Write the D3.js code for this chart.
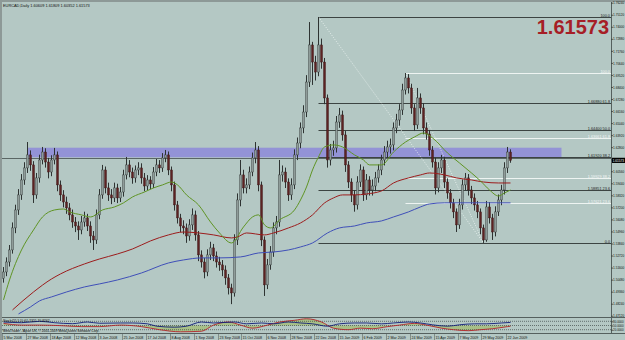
<!DOCTYPE html>
<html><head><meta charset="utf-8">
<script src="https://cdn.jsdelivr.net/npm/d3@7"></script>
<style>
html,body{margin:0;padding:0;background:#b4c8c4;overflow:hidden;}
svg{display:block;font-family:'Liberation Sans',Arial,sans-serif;}
</style>
</head><body>
<svg id="c" width="625" height="340"></svg>
<script>
// ---------------- DATA (EURCAD, Daily, 2-day bars) ----------------
const firstOpen = 1.5060;
const closes = [1.5119,1.5212,1.5324,1.5529,1.5696,1.5836,1.5975,1.6087,1.6208,1.6115,
1.5836,1.5994,1.6161,1.6235,1.6142,1.6049,1.6161,1.6208,1.5929,1.5836,
1.5770,1.5715,1.5650,1.5584,1.5547,1.5510,1.5584,1.5622,1.5547,1.5454,
1.5417,1.5650,1.5836,1.6068,1.5901,1.5836,1.5808,1.5901,1.5808,1.5863,
1.6022,1.6115,1.6049,1.5994,1.6068,1.6087,1.5994,1.5919,1.5975,1.5938,
1.6049,1.6115,1.6087,1.6180,1.6208,1.6068,1.5929,1.5743,1.5622,1.5547,
1.5529,1.5454,1.5557,1.5650,1.5464,1.5278,1.5212,1.5119,1.5278,1.5343,
1.5268,1.5212,1.5185,1.5138,1.5064,1.4971,1.4924,1.5417,1.5789,1.6022,
1.5901,1.5929,1.6049,1.6180,1.6254,1.5929,1.5417,1.4999,1.5185,1.5305,
1.5529,1.5584,1.6022,1.6049,1.5956,1.5836,1.5929,1.6208,1.6319,1.6459,
1.6607,1.6886,1.7231,1.7072,1.6979,1.7231,1.7072,1.6738,1.6161,1.6254,
1.6273,1.6514,1.6580,1.6394,1.6115,1.5956,1.5836,1.5743,1.5956,1.6068,
1.5836,1.5975,1.5882,1.5919,1.5994,1.6068,1.6161,1.6235,1.6282,1.6301,
1.6459,1.6533,1.6626,1.6812,1.6924,1.6831,1.6645,1.6487,1.6738,1.6645,
1.6459,1.6403,1.6254,1.6142,1.5901,1.6087,1.6161,1.5956,1.5854,1.5762,
1.5678,1.5557,1.5743,1.5929,1.5994,1.5882,1.5808,1.5743,1.5678,1.5529,
1.5417,1.5724,1.5622,1.5491,1.5678,1.5789,1.5882,1.6087,1.6235,1.6157];
const highs = [1.5165,1.5255,1.5370,1.5580,1.5745,1.5890,1.6030,1.6140,1.6328,1.6250,
1.6150,1.6040,1.6210,1.6282,1.6270,1.6180,1.6205,1.6273,1.6240,1.5970,
1.5880,1.5820,1.5760,1.5700,1.5630,1.5590,1.5640,1.5680,1.5660,1.5590,
1.5500,1.5700,1.5890,1.6115,1.6100,1.5950,1.5890,1.5950,1.5940,1.5910,
1.6070,1.6189,1.6160,1.6090,1.6110,1.6140,1.6130,1.6040,1.6020,1.6010,
1.6095,1.6170,1.6160,1.6225,1.6254,1.6240,1.6100,1.5960,1.5780,1.5660,
1.5600,1.5570,1.5610,1.5710,1.5690,1.5500,1.5320,1.5250,1.5330,1.5400,
1.5380,1.5310,1.5260,1.5230,1.5180,1.5100,1.5010,1.5470,1.5850,1.6161,
1.6070,1.5990,1.6100,1.6230,1.6328,1.6290,1.5960,1.5450,1.5240,1.5360,
1.5580,1.5640,1.6161,1.6110,1.6090,1.5990,1.5990,1.6260,1.6370,1.6510,
1.6670,1.6950,1.7444,1.7260,1.7130,1.7491,1.7290,1.7110,1.6770,1.6310,
1.6340,1.6570,1.6645,1.6620,1.6430,1.6150,1.5990,1.5880,1.6010,1.6120,
1.6100,1.6030,1.6010,1.5980,1.6050,1.6120,1.6210,1.6290,1.6340,1.6360,
1.6510,1.6590,1.6680,1.6870,1.6970,1.6960,1.6870,1.6680,1.6831,1.6780,
1.6690,1.6510,1.6440,1.6290,1.6180,1.6140,1.6208,1.6190,1.5990,1.5890,
1.5800,1.5710,1.5800,1.5980,1.6040,1.6030,1.5920,1.5850,1.5780,1.5710,
1.5560,1.5780,1.5770,1.5660,1.5730,1.5840,1.5930,1.6140,1.6282,1.6260];
const lows = [1.5020,1.5080,1.5170,1.5290,1.5480,1.5650,1.5790,1.5930,1.6040,1.6060,
1.5761,1.5800,1.5950,1.6120,1.6090,1.5990,1.6010,1.6120,1.5870,1.5780,
1.5720,1.5660,1.5600,1.5530,1.5490,1.5417,1.5470,1.5540,1.5500,1.5390,
1.5324,1.5380,1.5610,1.5800,1.5850,1.5780,1.5750,1.5770,1.5760,1.5770,
1.5820,1.5980,1.6000,1.5940,1.5950,1.6020,1.5940,1.5870,1.5880,1.5890,
1.5900,1.6010,1.6040,1.6050,1.6140,1.6020,1.5870,1.5690,1.5570,1.5490,
1.5470,1.5390,1.5410,1.5510,1.5410,1.5220,1.5160,1.5060,1.5080,1.5230,
1.5220,1.5160,1.5130,1.5080,1.5000,1.4910,1.4820,1.4890,1.5370,1.5730,
1.5850,1.5850,1.5890,1.6010,1.6130,1.5870,1.5360,1.4896,1.4960,1.5140,
1.5260,1.5470,1.5540,1.5960,1.5900,1.5780,1.5790,1.5890,1.6160,1.6270,
1.6410,1.6560,1.6840,1.6859,1.6900,1.6940,1.7010,1.6680,1.6090,1.6110,
1.6200,1.6230,1.6460,1.6340,1.6050,1.5900,1.5770,1.5680,1.5700,1.5910,
1.5780,1.5790,1.5830,1.5830,1.5870,1.5950,1.6020,1.6110,1.6180,1.6220,
1.6250,1.6410,1.6480,1.6580,1.6770,1.6780,1.6590,1.6430,1.6450,1.6590,
1.6400,1.6350,1.6200,1.6090,1.5840,1.5860,1.6040,1.5900,1.5800,1.5710,
1.5620,1.5491,1.5520,1.5700,1.5880,1.5830,1.5750,1.5690,1.5620,1.5470,
1.5389,1.5400,1.5570,1.5417,1.5450,1.5640,1.5740,1.5840,1.6040,1.6135];

// moving averages read at sample bars: [bar index, price]
const maGreen = [[0,1.4859],[2,1.5045],[6,1.5324],[10,1.5510],[13,1.5631],[17,1.5696],[20,1.5705],[22,1.5678],[26,1.5650],[29,1.5631],[33,1.5696],[37,1.5724],[40,1.5762],[43,1.5817],[47,1.5863],[50,1.5901],[53,1.5929],[56,1.5956],[58,1.5929],[61,1.5836],[65,1.5743],[69,1.5584],[72,1.5482],[76,1.5389],[80,1.5538],[83,1.5631],[85,1.5650],[87,1.5557],[89,1.5529],[92,1.5603],[97,1.5696],[99,1.5789],[101,1.5910],[103,1.6068],[105,1.6189],[107,1.6282],[110,1.6301],[113,1.6282],[117,1.6208],[120,1.6161],[122,1.6115],[126,1.6115],[130,1.6235],[134,1.6328],[137,1.6375],[140,1.6412],[143,1.6366],[148,1.6226],[152,1.6133],[156,1.6040],[159,1.5966],[162,1.5882],[165,1.5826],[167,1.5854],[169,1.5882]];
const maRed = [[3,1.4766],[10,1.4933],[16,1.5054],[19,1.5101],[27,1.5194],[32,1.5240],[38,1.5287],[43,1.5333],[49,1.5408],[55,1.5464],[60,1.5491],[65,1.5482],[70,1.5464],[76,1.5436],[78,1.5445],[81,1.5482],[87,1.5464],[90,1.5482],[95,1.5529],[99,1.5575],[103,1.5650],[107,1.5761],[110,1.5808],[113,1.5836],[117,1.5836],[121,1.5845],[126,1.5873],[130,1.5947],[135,1.5994],[139,1.6022],[142,1.6040],[147,1.6022],[151,1.5994],[156,1.5975],[160,1.5956],[165,1.5947],[169,1.5947]];
const maBlue = [[5,1.4729],[9,1.4794],[12,1.4850],[16,1.4887],[21,1.4933],[27,1.4980],[32,1.5008],[38,1.5045],[46,1.5110],[55,1.5203],[60,1.5231],[66,1.5250],[72,1.5250],[79,1.5259],[85,1.5296],[90,1.5305],[95,1.5324],[99,1.5352],[103,1.5389],[108,1.5482],[112,1.5529],[117,1.5547],[121,1.5575],[126,1.5594],[130,1.5631],[135,1.5678],[139,1.5724],[142,1.5752],[147,1.5762],[157,1.5762],[169,1.5762]];

// oscillator (lower window), values 0..100
const oscMain = [[0,75],[6,70],[12,80],[17,70],[23,63],[28,75],[32,66],[39,68],[43,68],[48,62],[51,45],[57,38],[61,45],[66,75],[70,68],[77,75],[81,62],[86,68],[90,62],[95,75],[99,68],[103,62],[108,45],[112,62],[117,68],[121,68],[126,62],[130,68],[135,75],[139,68],[143,55],[148,45],[152,55],[157,62],[161,62],[166,68],[169,72]];
const oscSignal = [[0,65],[6,53],[12,53],[19,49],[26,42],[32,42],[39,53],[46,42],[52,20],[59,5],[66,9],[70,53],[75,75],[79,53],[83,31],[88,53],[92,75],[97,87],[101,98],[106,75],[110,31],[115,20],[119,31],[123,27],[128,42],[132,53],[137,65],[141,53],[146,31],[150,20],[155,13],[159,20],[163,27],[168,42],[169,45]];
const oscLevels = [80, 50, 20];

// drawn objects
const bandPrices = [1.6186, 1.6275];     // resistance zone
const bandBars = [8, 186];
const hLinePrice = 1.6180;
const fibLevels = [0, 23.6, 38.2, 50, 61.8, 100];
const fibLevelsB = [23.6, 38.2, 61.8, 100];
const fibA = {hiBar:105, loBar:160};
const fibB = {hiBar:134, loBar:160};

// axes labels
const priceTicks = [1.7624,1.7512,1.7400,1.7288,1.7176,1.7064,1.6952,1.6840,1.6728,1.6616,1.6504,1.6392,1.6280,1.6168,1.6056,1.5944,1.5832,1.5720,1.5608,1.5496,1.5384,1.5272,1.5160,1.5048,1.4936,1.4824,1.4712];
const dateLabels = ["5 Mar 2008","27 Mar 2008","18 Apr 2008","12 May 2008","3 Jun 2008","25 Jun 2008","17 Jul 2008","8 Aug 2008","1 Sep 2008","23 Sep 2008","15 Oct 2008","6 Nov 2008","28 Nov 2008","22 Dec 2008","15 Jan 2009","6 Feb 2009","2 Mar 2009","24 Mar 2009","15 Apr 2009","7 May 2009","29 May 2009","22 Jun 2009"];
const dateBars = [0,8,16,24,32,40,48,56,64,72,80,88,96,104,112,120,128,136,144,152,160,168];
const lastPrice = 1.61573;
const titleText = "EURCAD,Daily  1.60609 1.61809 1.60352 1.61573";
const oscText = "Stoch(21,5,5) 61.7321 70.8262";
const copyText = "MetaTrader - Alpari UK, \u00A9 2001-2009 MetaQuotes Software Corp.";

// ---------------- DRAWING ----------------
const svg = d3.select('#c');
const R = 611.5;          // price axis line
const mainTop = 2, mainBot = 317.5, oscTop = 318, oscBot = 333;
const FONT = "'Liberation Sans',Arial,sans-serif";

const x = d3.scaleLinear().domain([0, 169]).range([3.5, 510.5]);
const y = d3.scaleLinear().domain([1.4824, 1.7624]).range([303.7, 2.7]);
const yo = d3.scaleLinear().domain([0, 100]).range([332.5, 318.5]);

svg.append('rect').attr('width', 625).attr('height', 340).attr('fill', '#b4c8c4');

const defs = svg.append('defs');
defs.append('clipPath').attr('id', 'cpMain').append('rect')
  .attr('x', 2).attr('y', mainTop).attr('width', R - 2).attr('height', mainBot - mainTop);
defs.append('clipPath').attr('id', 'cpOsc').append('rect')
  .attr('x', 2).attr('y', oscTop).attr('width', R - 2).attr('height', oscBot - oscTop);

const g = svg.append('g').attr('clip-path', 'url(#cpMain)');

// resistance band
g.append('rect')
  .attr('x', x(bandBars[0])).attr('width', x(bandBars[1]) - x(bandBars[0]))
  .attr('y', y(bandPrices[1])).attr('height', y(bandPrices[0]) - y(bandPrices[1]))
  .attr('fill', '#9393d6');

// full-width horizontal line
g.append('line').attr('x1', 2).attr('x2', R).attr('y1', Math.round(y(hLinePrice)) + 0.5).attr('y2', Math.round(y(hLinePrice)) + 0.5)
  .attr('stroke', '#5a6664').attr('stroke-width', 1);

// fibonacci grids
function drawFib(f, levels, color, labelColor) {
  const hi = highs[f.hiBar], lo = lows[f.loBar];
  const x0 = x(Math.min(f.hiBar, f.loBar));
  levels.forEach(l => {
    const p = lo + (hi - lo) * l / 100;
    const yy = Math.round(y(p)) + 0.5;
    g.append('line').attr('x1', x0).attr('x2', R).attr('y1', yy).attr('y2', yy)
      .attr('stroke', color).attr('stroke-width', 1);
    const txt = (l === 0 || l === 100) ? l.toFixed(1) : p.toFixed(5) + ' ' + l.toFixed(1);
    svg.append('text').attr('x', 610).attr('y', yy - 1).attr('text-anchor', 'end')
      .attr('font-size', 3.8).attr('fill', labelColor).text(txt);
  });
  g.append('line').attr('x1', x(f.hiBar)).attr('y1', y(hi)).attr('x2', x(f.loBar)).attr('y2', y(lo))
    .attr('stroke', '#eef4f2').attr('stroke-width', 0.8).attr('stroke-dasharray', '1,1.5');
}
drawFib(fibB, fibLevelsB, '#eef4f2', '#f4f8f8');
drawFib(fibA, fibLevels, '#3c4442', '#1c2422');

// candles
const bars = closes.map((c, i) => ({i, o: i ? closes[i - 1] : firstOpen, c, h: highs[i], l: lows[i]}));
const cg = g.append('g');
cg.selectAll('line.wick').data(bars).join('line').attr('class', 'wick')
  .attr('x1', d => x(d.i)).attr('x2', d => x(d.i))
  .attr('y1', d => y(d.h)).attr('y2', d => y(d.l))
  .attr('stroke', '#2e3332').attr('stroke-width', 1);
cg.selectAll('rect.body').data(bars).join('rect').attr('class', 'body')
  .attr('x', d => x(d.i) - 1).attr('width', 2)
  .attr('y', d => y(Math.max(d.o, d.c)))
  .attr('height', d => Math.max(1, Math.abs(y(d.o) - y(d.c))))
  .attr('fill', d => d.c >= d.o ? '#8f9c99' : '#5c2222')
  .attr('stroke', d => d.c >= d.o ? '#2e3332' : '#3a1414').attr('stroke-width', 0.4);

// moving averages
const ln = d3.line().x(d => x(d[0])).y(d => y(d[1])).curve(d3.curveMonotoneX);
g.append('path').attr('d', ln(maBlue)).attr('fill', 'none').attr('stroke', '#3f4fb8').attr('stroke-width', 1);
g.append('path').attr('d', ln(maRed)).attr('fill', 'none').attr('stroke', '#9c1c1c').attr('stroke-width', 1);
g.append('path').attr('d', ln(maGreen)).attr('fill', 'none').attr('stroke', '#5f9424').attr('stroke-width', 1);

// big price label
svg.append('text').attr('x', 609).attr('y', 34).attr('text-anchor', 'end')
  .attr('font-size', 20).attr('font-weight', 'bold').attr('fill', '#a61e26').text(lastPrice.toFixed(5));

// title
svg.append('text').attr('x', 3).attr('y', 6.5).attr('font-size', 3.9).attr('fill', '#101010').text(titleText);

// frame
svg.append('rect').attr('x', 0).attr('y', 0).attr('width', 625).attr('height', 2).attr('fill', '#8d9997');
svg.append('rect').attr('x', 0).attr('y', 0).attr('width', 2).attr('height', 340).attr('fill', '#8d9997');
svg.append('line').attr('x1', R).attr('x2', R).attr('y1', 2).attr('y2', oscBot).attr('stroke', '#55605e');
svg.append('line').attr('x1', 2).attr('x2', 625).attr('y1', mainBot).attr('y2', mainBot).attr('stroke', '#55605e');
svg.append('line').attr('x1', 2).attr('x2', 625).attr('y1', oscBot + 0.5).attr('y2', oscBot + 0.5).attr('stroke', '#55605e');

// price axis (labels squeezed to fit the narrow strip)
const ax = svg.append('g').attr('transform', `translate(${R},0)`)
  .call(d3.axisRight(y).tickValues(priceTicks).tickSize(1.2).tickPadding(0.4).tickFormat(d3.format('.5f')));
ax.select('.domain').remove();
ax.selectAll('line').attr('stroke', '#2a2a2a');
ax.selectAll('text').attr('font-size', 3.6).attr('fill', '#101010').attr('font-family', FONT)
  .attr('textLength', 11.2).attr('lengthAdjust', 'spacingAndGlyphs');

// current price marker
const yl = y(lastPrice);
svg.append('rect').attr('x', R + 0.5).attr('y', yl - 2.6).attr('width', 13).attr('height', 5.2).attr('fill', '#000');
svg.append('text').attr('x', R + 1.2).attr('y', yl + 1.3).attr('font-size', 3.6).attr('fill', '#fff')
  .attr('textLength', 11.2).attr('lengthAdjust', 'spacingAndGlyphs').text(lastPrice.toFixed(5));

// oscillator window
const og = svg.append('g').attr('clip-path', 'url(#cpOsc)');
const lno = d3.line().x(d => x(d[0])).y(d => yo(d[1])).curve(d3.curveMonotoneX);
const area = d3.area().x(d => x(d[0])).y0(() => yo(50)).y1(d => yo(d[1])).curve(d3.curveMonotoneX);
og.append('path').attr('d', area(oscSignal)).attr('fill', '#a4bd78').attr('opacity', 0.8);
oscLevels.forEach(v => {
  og.append('line').attr('x1', 2).attr('x2', R).attr('y1', yo(v)).attr('y2', yo(v))
    .attr('stroke', '#2c3432').attr('stroke-width', 0.6).attr('stroke-dasharray', '1,1');
});
og.append('path').attr('d', lno(oscSignal)).attr('fill', 'none').attr('stroke', '#b2242a').attr('stroke-width', 0.9);
og.append('path').attr('d', lno(oscMain)).attr('fill', 'none').attr('stroke', '#101c78').attr('stroke-width', 0.9);
svg.append('text').attr('x', 3).attr('y', 322).attr('font-size', 3.4).attr('fill', '#101010').text(oscText);
svg.append('text').attr('x', 3).attr('y', 331.5).attr('font-size', 3.3).attr('fill', '#101010').text(copyText);
const oax = svg.append('g').attr('transform', `translate(${R},0)`)
  .call(d3.axisRight(yo).tickValues(oscLevels).tickSize(1.2).tickPadding(0.4).tickFormat(d3.format('.4f')));
oax.select('.domain').remove();
oax.selectAll('line').attr('stroke', '#2a2a2a');
oax.selectAll('text').attr('font-size', 3.2).attr('fill', '#101010').attr('font-family', FONT)
  .attr('textLength', 10.5).attr('lengthAdjust', 'spacingAndGlyphs');

// date axis
const dg = svg.append('g');
dateBars.forEach((b, k) => {
  const xx = Math.round(x(b) - 2) + 0.5;
  dg.append('line').attr('x1', xx).attr('x2', xx).attr('y1', oscBot + 1).attr('y2', 340).attr('stroke', '#4a5250').attr('stroke-width', 0.5);
  dg.append('text').attr('x', xx + 1).attr('y', 338.5).attr('font-size', 3.6).attr('fill', '#101010').text(dateLabels[k]);
});
</script>
</body></html>
